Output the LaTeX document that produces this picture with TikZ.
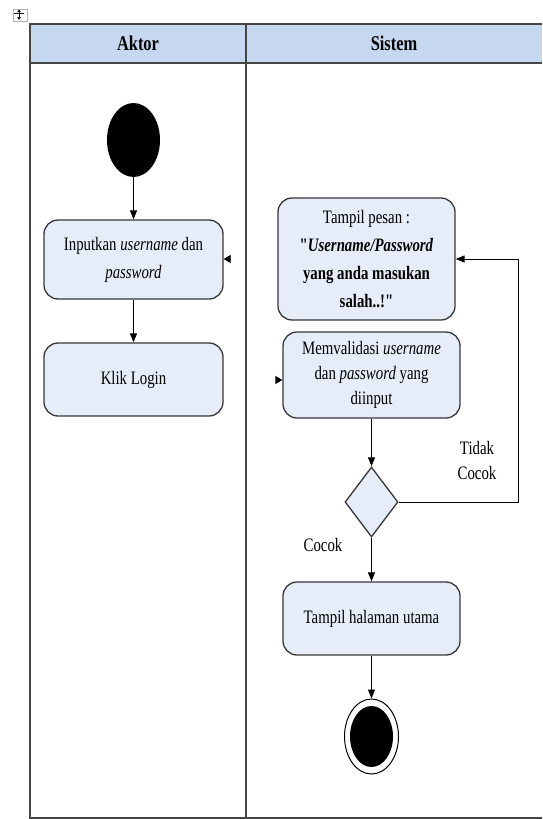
\documentclass[tikz,border=0pt]{standalone}
\usepackage{fontspec}
\setmainfont{Liberation Serif}[FakeStretch=0.78]
% same face without TeX ligatures, so " stays a straight quote
\newfontfamily\straightq{Liberation Serif}[FakeStretch=0.78]
\usetikzlibrary{arrows.meta,shapes.geometric}
\definecolor{headblue}{RGB}{198,216,239}
\definecolor{actfill}{RGB}{230,237,248}
\definecolor{edgegray}{RGB}{55,55,55}
\definecolor{ruleline}{RGB}{70,70,70}
\newcommand{\dq}{{\straightq "}}

\begin{document}
\begin{tikzpicture}[x=1pt,y=-1pt,
  act/.style={draw=edgegray, line width=1.3pt, fill=actfill, rounded corners=14pt,
    align=center, font=\fontsize{19}{28}\selectfont, inner sep=2pt},
  flow/.style={draw=black, line width=0.9pt, -{Triangle[length=9pt,width=7pt]}},
  stub/.style={draw=black, line width=0.9pt, -{Triangle[length=7pt,width=8pt]}},
  lbl/.style={font=\fontsize{19}{25}\selectfont, align=center, inner sep=0pt},
  head/.style={font=\bfseries\fontsize{21}{21}\selectfont, inner sep=0pt}
]
\useasboundingbox (0,0) rectangle (542,819);

% table move handle
\draw[gray!60, line width=0.5pt] (13,9) rectangle (27,21);
\draw[gray!20!black, line width=0.8pt] (14,13) -- (24,13);
\draw[gray!20!black, line width=0.8pt] (19,10) -- (19,19);
\fill[gray!20!black] (17,17) -- (21,17) -- (19,20) -- cycle;
\fill[gray!20!black] (17,12) -- (21,12) -- (19,9.5) -- cycle;

% swimlane table
\fill[headblue] (30,24) rectangle (542,63);
\draw[ruleline, line width=1.5pt] (542,24) -- (30,24) -- (30,818) -- (542,818);
\draw[ruleline, line width=1.5pt] (30,63) -- (542,63);
\draw[ruleline, line width=1.5pt] (246,24) -- (246,818);
\node[head] (hA) at (138,43) {Aktor};
\node[head] (hS) at (394,43) {Sistem};

% actor lane
\node[ellipse, fill=black, minimum width=53, minimum height=74, inner sep=0] (start) at (133.5,140) {};
\node[act, minimum width=179, minimum height=79] (input) at (133.5,259.5)
  {Inputkan \textit{username} dan\\\textit{password}};
\node[act, minimum width=179, minimum height=73] (login) at (133.5,379.5) {Klik Login};

% system lane
\node[act, minimum width=177, minimum height=122] (pesan) at (366.5,259)
  {Tampil pesan :\\\textbf{\dq\textit{Username/Password}}\\\textbf{yang anda masukan}\\\textbf{salah..!\dq}};
\node[act, minimum width=177, minimum height=86, font=\fontsize{19}{25}\selectfont] (valid) at (371.5,375)
  {Memvalidasi \textit{username}\\dan \textit{password} yang\\diinput};
\node[diamond, draw=edgegray, line width=1.3pt, fill=actfill, minimum width=53, minimum height=70, inner sep=0] (dec) at (371.5,502) {};
\node[act, minimum width=177, minimum height=73] (home) at (371.5,618.5) {Tampil halaman utama};
\node[ellipse, draw=black, line width=1pt, fill=white, minimum width=54, minimum height=75, inner sep=0] (end) at (371.5,736.5) {};
\node[ellipse, fill=black, minimum width=43, minimum height=61, inner sep=0] (endcore) at (371.5,736.5) {};

% labels
\node[lbl] (tc) at (477,460) {Tidak\\Cocok};
\node[lbl] (cc) at (323,545) {Cocok};

% connectors
\coordinate (loopR) at (518,502);
\coordinate (tipA) at (231,259);
\coordinate (tipB) at (276,380);
\draw[flow] (start) -- (input);
\draw[flow] (input) -- (login);
\draw[flow] (valid) -- (dec);
\draw[flow] (dec.east) -- (loopR) |- (pesan.east);
\draw[flow] (dec) -- (home);
\draw[flow] (home) -- (end);
\draw[stub] (tipA) -- (tipA -| input.east);
\draw[stub] (tipB) -- (tipB -| valid.west);
\end{tikzpicture}
\end{document}
